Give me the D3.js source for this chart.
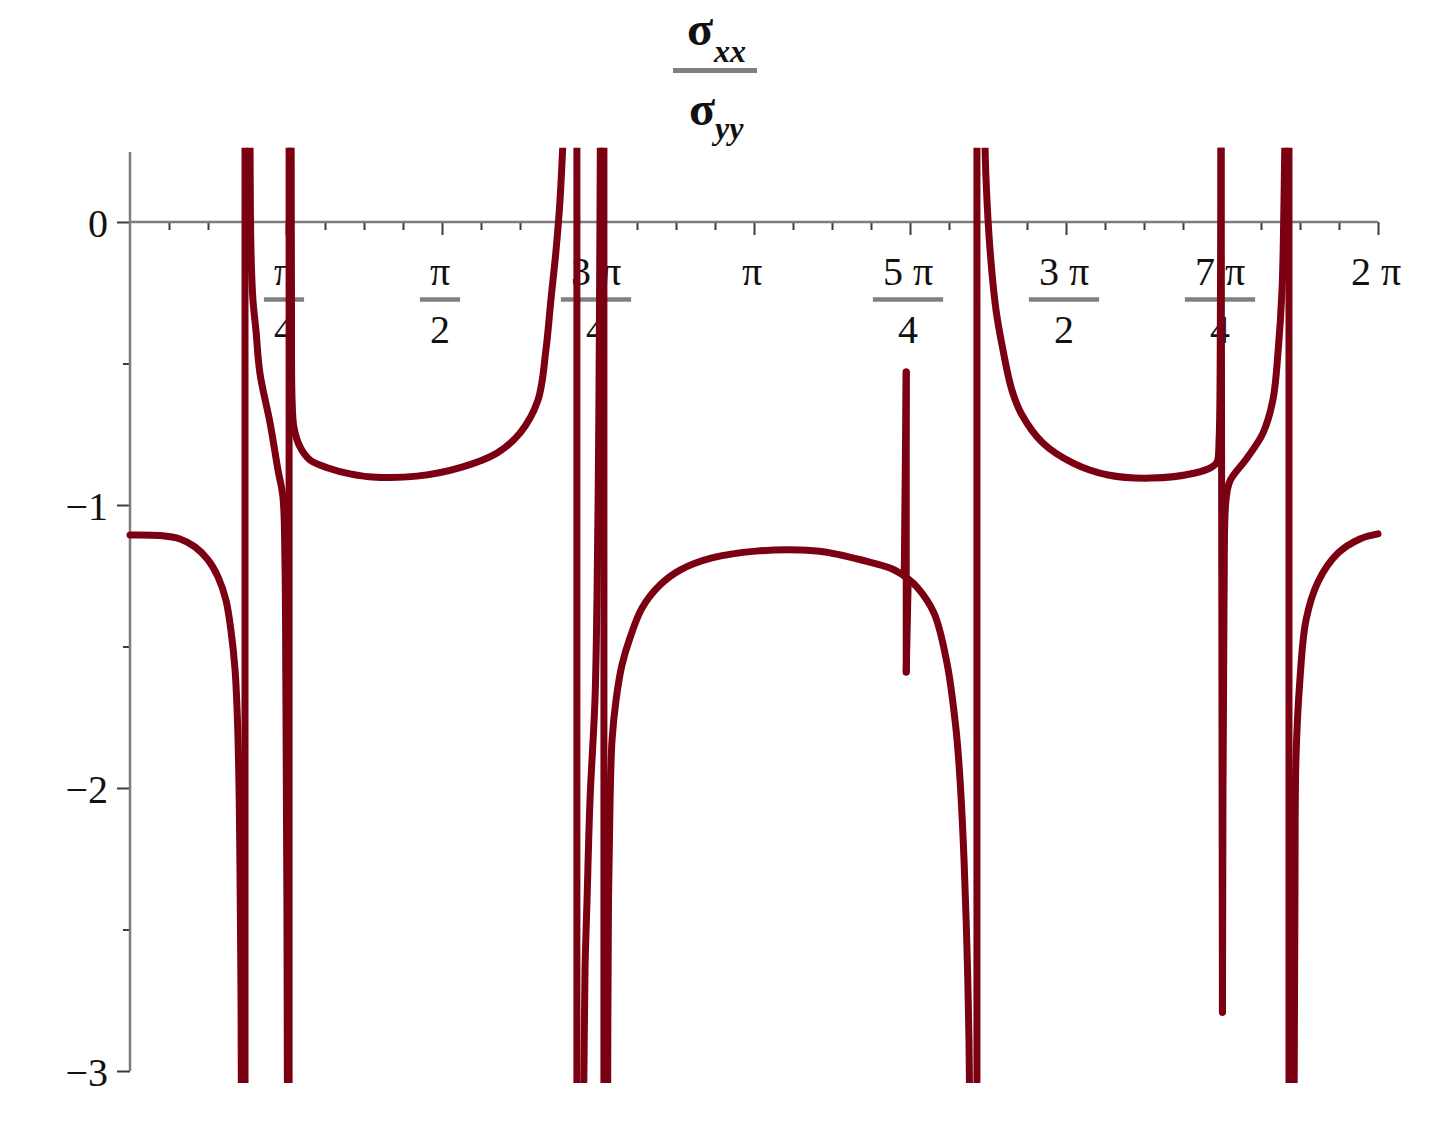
<!DOCTYPE html>
<html><head><meta charset="utf-8">
<script src="https://cdn.jsdelivr.net/npm/d3@7"></script>
<style>body{margin:0;background:#fff}svg{display:block}</style>
</head><body>
<svg id="chart" width="1442" height="1148"></svg>
<script>
// off-scale markers (curve leaves the visible window)
const Y_HI = 0.45, Y_LO = -3.3;

const curveX = [
  0, 0.151, 0.252, 0.327, 0.393, 0.443, 0.483, 0.508, 0.529, 0.541, 0.550, 0.555, 0.559, 0.561,
  0.579, 0.579, 0.604,
  0.609, 0.619, 0.634, 0.654, 0.705, 0.745, 0.770, 0.780, 0.785, 0.790, 0.793,
  0.801, 0.801, 0.811,
  0.813, 0.816, 0.826, 0.856, 0.906, 0.997, 1.108, 1.218, 1.445, 1.671, 1.848, 1.963, 2.054, 2.094, 2.119, 2.145, 2.165, 2.190,
  2.250, 2.250, 2.281,
  2.286, 2.291, 2.301, 2.316, 2.341, 2.351, 2.359, 2.364, 2.369,
  2.386, 2.386, 2.404,
  2.409, 2.417, 2.427, 2.447, 2.477, 2.517, 2.578, 2.668, 2.769, 2.930, 3.152, 3.373, 3.499, 3.720, 3.826, 3.898,
  3.908, 3.908,
  3.918, 3.962, 4.048, 4.113, 4.159, 4.179, 4.199, 4.214, 4.224, 4.229,
  4.264, 4.264, 4.299,
  4.310, 4.330, 4.360, 4.395, 4.440, 4.491, 4.596, 4.748, 4.924, 5.140, 5.362, 5.447, 5.473, 5.483, 5.490, 5.493,
  5.500,
  5.508, 5.518, 5.538, 5.624, 5.704, 5.754, 5.780, 5.800, 5.810, 5.817,
  5.835, 5.835, 5.860,
  5.865, 5.870, 5.890, 5.921, 5.981, 6.082, 6.192, 6.283
];
const curveY = [
  -1.106, -1.108, -1.120, -1.148, -1.194, -1.254, -1.336, -1.442, -1.583, -1.760, -2.042, -2.396, -2.749, Y_LO,
  Y_LO, Y_HI, Y_HI,
  -0.099, -0.276, -0.382, -0.534, -0.710, -0.876, -0.972, -1.194, -1.689, -2.396, Y_LO,
  Y_LO, Y_HI, Y_HI,
  -0.276, -0.629, -0.728, -0.795, -0.841, -0.869, -0.890, -0.901, -0.898, -0.866, -0.816, -0.746, -0.629, -0.452, -0.276, -0.099, 0.078, Y_HI,
  Y_HI, Y_LO, Y_LO,
  -2.961, -2.633, -2.396, -2.042, -1.689, -1.336, -0.806, -0.276, Y_HI,
  Y_HI, Y_LO, Y_LO,
  -2.396, -2.042, -1.830, -1.689, -1.565, -1.470, -1.364, -1.283, -1.230, -1.187, -1.163, -1.159, -1.166, -1.201, -1.223, -1.250,
  -0.530, -1.590,
  -1.262, -1.290, -1.382, -1.558, -1.795, -1.972, -2.254, -2.572, -2.890, Y_LO,
  Y_LO, Y_HI, Y_HI,
  0.148, -0.099, -0.311, -0.452, -0.594, -0.682, -0.781, -0.852, -0.894, -0.905, -0.887, -0.866, -0.848, -0.770, -0.276, Y_HI,
  -2.792,
  -1.336, -0.982, -0.915, -0.834, -0.746, -0.629, -0.459, -0.240, 0.078, Y_HI,
  Y_HI, Y_LO, Y_LO,
  -2.396, -1.901, -1.618, -1.406, -1.272, -1.170, -1.120, -1.102
];

// axes
const xQuarterTicks = [1, 2, 3, 4, 5, 6, 7, 8];           // multiples of pi/4
const xTickNumerators = ["π", "π", "3 π", "π", "5 π", "3 π", "7 π", "2 π"];
const xTickDenominators = ["4", "2", "4", "", "4", "2", "4", ""];
const yMajorTicks = [0, -1, -2, -3];
const yMajorLabels = ["0", "−1", "−2", "−3"];
const yMinorTicks = [-0.5, -1.5, -2.5];

const titleMain = "σ";
const titleSubTop = "xx";
const titleSubBottom = "yy";

const PI = Math.PI;
const svg = d3.select("#chart");
const x = d3.scaleLinear().domain([0, 2 * PI]).range([130, 1378]);
const y = d3.scaleLinear().domain([0, -3]).range([222, 1071]);
const FONT = "'Liberation Serif', 'Times New Roman', serif";
const AXIS_COLOR = "#7d7d7d";
const TICK_COLOR = "#3c3c3c";
const LINE_COLOR = "#7a0012";

// clip region of the plot
svg.append("defs").append("clipPath").attr("id", "clip")
  .append("rect")
  .attr("x", x(0) - 6).attr("width", x(2 * PI) - x(0) + 12)
  .attr("y", y(0.262)).attr("height", y(-3.042) - y(0.262));

// minor x ticks
const xMinor = d3.range(0, 33).filter(k => k % 4 !== 0).map(k => k * PI / 16);
svg.append("g").attr("transform", `translate(0,${y(0)})`)
  .call(d3.axisBottom(x).tickValues(xMinor).tickSize(8).tickSizeOuter(0).tickFormat(() => ""))
  .call(g => g.select(".domain").remove())
  .call(g => g.selectAll("line").attr("stroke", TICK_COLOR).attr("stroke-width", 2));
// major x ticks
svg.append("g").attr("transform", `translate(0,${y(0)})`)
  .call(d3.axisBottom(x).tickValues(xQuarterTicks.map(k => k * PI / 4)).tickSize(13).tickSizeOuter(0).tickFormat(() => ""))
  .call(g => g.select(".domain").remove())
  .call(g => g.selectAll("line").attr("stroke", TICK_COLOR).attr("stroke-width", 2));

// y ticks
svg.append("g").attr("transform", `translate(${x(0)},0)`)
  .call(d3.axisLeft(y).tickValues(yMinorTicks).tickSize(7).tickSizeOuter(0).tickFormat(() => ""))
  .call(g => g.select(".domain").remove())
  .call(g => g.selectAll("line").attr("stroke", TICK_COLOR).attr("stroke-width", 2));
svg.append("g").attr("transform", `translate(${x(0)},0)`)
  .call(d3.axisLeft(y).tickValues(yMajorTicks).tickSize(13).tickSizeOuter(0).tickFormat(() => ""))
  .call(g => g.select(".domain").remove())
  .call(g => g.selectAll("line").attr("stroke", TICK_COLOR).attr("stroke-width", 2));

// axis lines
svg.append("line").attr("x1", x(0)).attr("x2", x(2 * PI)).attr("y1", y(0)).attr("y2", y(0))
  .attr("stroke", AXIS_COLOR).attr("stroke-width", 2.5);
svg.append("line").attr("x1", x(0)).attr("x2", x(0)).attr("y1", y(0.247)).attr("y2", y(-3))
  .attr("stroke", AXIS_COLOR).attr("stroke-width", 2.5);

// y labels
svg.append("g").selectAll("text").data(yMajorTicks).join("text")
  .attr("x", x(0) - 22).attr("y", d => y(d) + 15)
  .attr("text-anchor", "end").attr("font-family", FONT).attr("font-size", 40).attr("fill", "#111")
  .text((d, i) => yMajorLabels[i]);

// x labels (fractions)
const xl = svg.append("g").attr("font-family", FONT).attr("font-size", 40).attr("fill", "#111");
xQuarterTicks.forEach((k, i) => {
  const cx = x(k * PI / 4) - 2;
  const num = xl.append("text").attr("x", cx).attr("y", 285).attr("text-anchor", "middle").text(xTickNumerators[i]);
  if (xTickDenominators[i]) {
    const w = num.node().getComputedTextLength() + 20;
    xl.append("line").attr("x1", cx - w / 2).attr("x2", cx + w / 2).attr("y1", 299.5).attr("y2", 299.5)
      .attr("stroke", "#808080").attr("stroke-width", 4.5);
    xl.append("text").attr("x", cx).attr("y", 343).attr("text-anchor", "middle").text(xTickDenominators[i]);
  }
});

// curve: split into smooth pieces at sharp corners (pole connectors, spike tips)
const pts = curveX.map((v, i) => [x(v), y(curveY[i])]);
const pieces = [];
let cur = [pts[0]];
for (let i = 1; i < pts.length; i++) {
  cur.push(pts[i]);
  if (i < pts.length - 1) {
    const a = pts[i - 1], b = pts[i], c = pts[i + 1];
    const a1 = Math.atan2(b[1] - a[1], b[0] - a[0]);
    const a2 = Math.atan2(c[1] - b[1], c[0] - b[0]);
    let t = Math.abs(a2 - a1);
    if (t > PI) t = 2 * PI - t;
    if (t > 0.9) { pieces.push(cur); cur = [pts[i]]; }
  }
}
pieces.push(cur);
const lineGen = d3.line().x(d => d[0]).y(d => d[1]).curve(d3.curveCatmullRom.alpha(0.5));
svg.append("g").attr("clip-path", "url(#clip)")
  .selectAll("path").data(pieces).join("path")
  .attr("d", lineGen)
  .attr("fill", "none").attr("stroke", LINE_COLOR).attr("stroke-width", 7)
  .attr("stroke-linejoin", "round").attr("stroke-linecap", "round");

// title (fraction)
const tg = svg.append("g").attr("font-family", FONT).attr("font-weight", "bold").attr("fill", "#111");
tg.append("text").attr("x", 700).attr("y", 45).attr("text-anchor", "middle").attr("font-size", 48).text(titleMain);
tg.append("text").attr("x", 714).attr("y", 62).attr("font-size", 32).attr("font-style", "italic").text(titleSubTop);
tg.append("line").attr("x1", 673).attr("x2", 757).attr("y1", 70.5).attr("y2", 70.5)
  .attr("stroke", "#808080").attr("stroke-width", 5);
tg.append("text").attr("x", 702).attr("y", 125).attr("text-anchor", "middle").attr("font-size", 48).text(titleMain);
tg.append("text").attr("x", 715).attr("y", 139).attr("font-size", 32).attr("font-style", "italic").text(titleSubBottom);
</script>
</body></html>
